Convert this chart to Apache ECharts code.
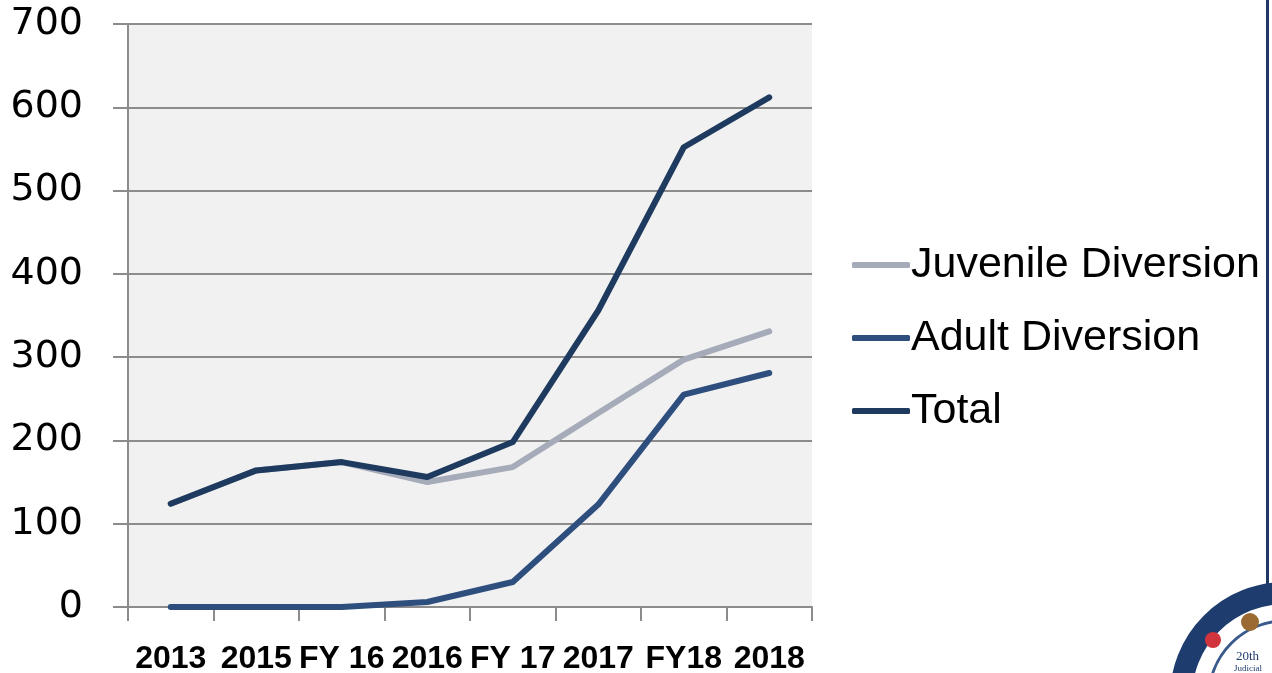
<!DOCTYPE html>
<html>
<head>
<meta charset="utf-8">
<script src="https://cdn.jsdelivr.net/npm/echarts@6/dist/echarts.min.js"></script>
<style>
html,body{margin:0;padding:0;background:#fff;}
#chart{width:1272px;height:673px;}
</style>
</head>
<body>
<div id="chart"></div>
<script>
const categories = ['2013', '2015', 'FY 16', '2016', 'FY 17', '2017', 'FY18', '2018'];
const juvenile = [124, 164, 174, 150, 168, 233, 297, 331];
const adult = [0, 0, 0, 6, 30, 123, 255, 281];
const total = [124, 164, 174, 156, 198, 356, 552, 612];
const yTicks = [0, 100, 200, 300, 400, 500, 600, 700];

const chart = echarts.init(document.getElementById('chart'));
const lineStyle = (c) => ({ color: c, width: 6, cap: 'round', join: 'round' });
chart.setOption({
  animation: false,
  backgroundColor: '#ffffff',
  grid: { left: 128, right: 460, top: 24, bottom: 66, show: true, backgroundColor: '#f1f1f1', borderWidth: 0, outerBoundsMode: 'none', containLabel: false },
  xAxis: {
    type: 'category',
    data: categories,
    boundaryGap: true,
    axisLine: { show: true, lineStyle: { color: '#8c8c8c', width: 2 } },
    axisTick: { show: true, length: 14, lineStyle: { color: '#8c8c8c', width: 2 } },
    axisLabel: { interval: 0, margin: 36, color: '#000', fontFamily: 'Liberation Sans', fontWeight: 'bold', fontSize: 32 },
    splitLine: { show: false }
  },
  yAxis: {
    type: 'value',
    min: yTicks[0],
    max: yTicks[yTicks.length - 1],
    interval: 100,
    axisLine: { show: true, lineStyle: { color: '#8c8c8c', width: 2 } },
    axisTick: { show: true, length: 15, lineStyle: { color: '#8c8c8c', width: 2 } },
    axisLabel: { margin: 45, color: '#000', fontFamily: 'DejaVu Sans', fontSize: 38 },
    splitLine: { show: true, lineStyle: { color: '#8c8c8c', width: 2 } }
  },
  legend: {
    orient: 'vertical',
    left: 847,
    top: 235,
    itemWidth: 58,
    itemHeight: 6,
    itemGap: 23,
    icon: 'roundRect',
    textStyle: { color: '#000', fontFamily: 'Liberation Sans', fontSize: 43, lineHeight: 50, padding: [0, 0, 0, -4] },
    data: ['Juvenile Diversion', 'Adult Diversion', 'Total']
  },
  graphic: [
    { type: 'rect', shape: { x: 1266, y: 0, width: 3, height: 592 }, style: { fill: '#1f3864' }, silent: true },
    { type: 'circle', shape: { cx: 1285, cy: 697, r: 104 }, style: { fill: '#ffffff', stroke: '#1f3c6e', lineWidth: 22 }, silent: true },
    { type: 'circle', shape: { cx: 1285, cy: 697, r: 76 }, style: { fill: '#ffffff', stroke: '#3a5a8c', lineWidth: 3 }, silent: true },
    { type: 'circle', shape: { cx: 1213, cy: 640, r: 8 }, style: { fill: '#d0343c' }, silent: true },
    { type: 'circle', shape: { cx: 1250, cy: 622, r: 9 }, style: { fill: '#9a6a32' }, silent: true },
    { type: 'text', style: { x: 1236, y: 650, text: '20th', fill: '#1f3c6e', font: '13px serif' }, silent: true },
    { type: 'text', style: { x: 1234, y: 664, text: 'Judicial', fill: '#1f3c6e', font: '9px serif' }, silent: true }
  ],
  series: [
    { name: 'Juvenile Diversion', type: 'line', data: juvenile, symbol: 'none', itemStyle: { color: '#a6abb9' }, lineStyle: lineStyle('#a6abb9'), z: 2 },
    { name: 'Adult Diversion', type: 'line', data: adult, symbol: 'none', itemStyle: { color: '#2e4e7e' }, lineStyle: lineStyle('#2e4e7e'), z: 3 },
    { name: 'Total', type: 'line', data: total, symbol: 'none', itemStyle: { color: '#1f3a5f' }, lineStyle: lineStyle('#1f3a5f'), z: 4 }
  ]
});
</script>
</body>
</html>
